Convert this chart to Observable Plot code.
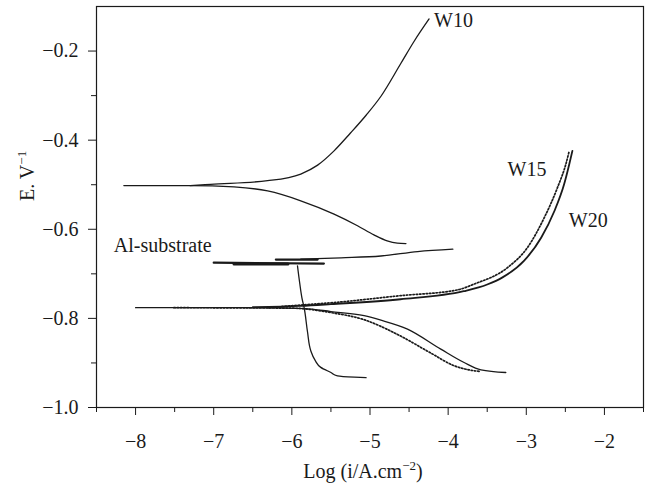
<!DOCTYPE html>
<html><head><meta charset="utf-8">
<script src="https://cdn.jsdelivr.net/npm/d3@7"></script>
<script src="https://cdn.jsdelivr.net/npm/@observablehq/plot@0.6"></script>
<style>body{margin:0;background:#fff}</style>
</head><body><div id="chart"></div>
<script>
// ---- data ----
const xTicks = [-8, -7, -6, -5, -4, -3, -2];
const xMinorTicks = [-8.5, -7.5, -6.5, -5.5, -4.5, -3.5, -2.5, -1.5];
const yTicks = [-1.0, -0.8, -0.6, -0.4, -0.2];
const yMinorTicks = [-0.9, -0.7, -0.5, -0.3];

const w10Cathodic = [[-8.15,-0.502],[-7.3,-0.502],[-6.74,-0.505],[-6.31,-0.514],[-5.886,-0.536],[-5.46,-0.566],[-5.16,-0.592],[-4.95,-0.6125],[-4.78,-0.626],[-4.65,-0.631],[-4.54,-0.632]];
const w10Anodic = [[-7.3,-0.502],[-7.04,-0.499],[-6.31,-0.491],[-5.886,-0.476],[-5.67,-0.456],[-5.46,-0.424],[-5.25,-0.384],[-5.05,-0.344],[-4.862,-0.302],[-4.606,-0.228],[-4.435,-0.178],[-4.244,-0.128]];

const w20Cathodic = [[-8.0,-0.776],[-6.5,-0.776],[-5.843,-0.778],[-5.5,-0.7846],[-5.075,-0.794],[-4.86,-0.804],[-4.52,-0.824],[-4.094,-0.869],[-3.796,-0.899],[-3.58,-0.9155],[-3.262,-0.9215]];
const w20Anodic = [[-6.5,-0.775],[-5.886,-0.772],[-5.5,-0.768],[-4.61,-0.757],[-3.8,-0.739],[-3.5,-0.724],[-3.304,-0.708],[-3.03,-0.671],[-2.81,-0.619],[-2.64,-0.559],[-2.516,-0.499],[-2.45,-0.454],[-2.41,-0.424]];

const w15Cathodic = [[-7.51,-0.776],[-6.0,-0.777],[-5.5,-0.787],[-5.075,-0.803],[-4.648,-0.836],[-4.22,-0.878],[-3.92,-0.9065],[-3.75,-0.915],[-3.6,-0.919]];
const w15Anodic = [[-6.3,-0.776],[-5.886,-0.770],[-5.5,-0.765],[-4.61,-0.749],[-3.88,-0.736],[-3.668,-0.723],[-3.24,-0.686],[-2.985,-0.641],[-2.77,-0.574],[-2.6,-0.506],[-2.494,-0.454],[-2.45,-0.424]];

const alPlateau1 = [[-7.0,-0.675],[-5.59,-0.677]];
const alPlateau2 = [[-6.74,-0.678],[-6.05,-0.678]];
const alPlateau3 = [[-6.205,-0.668],[-5.67,-0.668]];
const alAnodic = [[-5.886,-0.667],[-5.37,-0.664],[-4.86,-0.660],[-4.39,-0.650],[-3.94,-0.6446]];
const alCathodic = [[-5.928,-0.682],[-5.90,-0.72],[-5.87,-0.755],[-5.843,-0.776],[-5.80,-0.83],[-5.757,-0.873],[-5.70,-0.895],[-5.63,-0.910],[-5.5,-0.9215],[-5.416,-0.929],[-5.2,-0.932],[-5.05,-0.933]];

const curveLabels = ["W10", "W15", "W20", "Al-substrate"];
const labelX = [-4.18, -3.24, -2.456, -8.278];
const labelY = [-0.1306, -0.465, -0.5797, -0.636];

const xTitle = "Log (i/A.cm−2)";
const yTitle = "E. V−1";

// ---- build ----
const toPts = a => a.map(([x, y]) => ({x, y}));
const labels = curveLabels.map((t, i) => ({t, x: labelX[i], y: labelY[i]}));
const minus = s => s.replace("-", "\u2212");
const ink = "#1a1a1a";

const solid = (arr, w = 1.3) => Plot.line(toPts(arr), {x: "x", y: "y", stroke: ink, strokeWidth: w, curve: "monotone-x"});
const dotted = arr => Plot.line(toPts(arr), {x: "x", y: "y", stroke: ink, strokeWidth: 1.7, strokeDasharray: "1.4,1.9", curve: "monotone-x"});

const chart = Plot.plot({
  width: 646, height: 483,
  marginLeft: 96, marginRight: 3, marginTop: 6, marginBottom: 76,
  style: {fontFamily: "'Liberation Serif', 'Times New Roman', serif", fontSize: "20px", background: "#fff", color: ink},
  x: {domain: [-8.5, -1.5]},
  y: {domain: [-1.0, -0.1]},
  marks: [
    Plot.axisX({ticks: xTicks, tickSize: 8, tickPadding: 18, tickFormat: d => minus(String(d)), label: null, stroke: ink}),
    Plot.axisX({ticks: xMinorTicks, tickSize: 5, tickFormat: () => "", label: null, stroke: ink}),
    Plot.axisY({ticks: yTicks, tickSize: 8, tickPadding: 10, tickFormat: d => minus(d.toFixed(1)), label: null, stroke: ink}),
    Plot.axisY({ticks: yMinorTicks, tickSize: 5, tickFormat: () => "", label: null, stroke: ink}),
    Plot.frame({stroke: ink, strokeWidth: 1.2}),
    solid(w10Cathodic), solid(w10Anodic),
    solid(w20Cathodic), solid(w20Anodic, 1.8),
    dotted(w15Cathodic), dotted(w15Anodic),
    solid(alPlateau1, 2.2), solid(alPlateau2, 3), solid(alPlateau3, 2.2),
    solid(alAnodic, 1.3),
    Plot.line(toPts(alCathodic), {x: "x", y: "y", stroke: ink, strokeWidth: 1.3, curve: "monotone-y"}),
    Plot.text(labels, {x: "x", y: "y", text: "t", textAnchor: "start", lineAnchor: "middle", fontSize: 20, fill: ink}),
    Plot.text([xTitle], {frameAnchor: "bottom", dx: -7, dy: 64, lineAnchor: "middle", fontSize: 20, fill: ink}),
    Plot.text([yTitle], {frameAnchor: "left", rotate: -90, dx: -69, dy: -6, lineAnchor: "middle", fontSize: 20, fill: ink})
  ]
});
document.getElementById("chart").appendChild(chart);

// superscripts for the axis titles
function superscript(full, base, sup, tail) {
  d3.select(chart).selectAll("text").filter(function() { return this.textContent === full; }).each(function() {
    const t = d3.select(this);
    t.text(null);
    t.append("tspan").text(base);
    t.append("tspan").attr("dy", -8).attr("font-size", 13).text(sup);
    if (tail) t.append("tspan").attr("dy", 8).text(tail);
  });
}
superscript(xTitle, "Log (i/A.cm", "\u22122", ")");
superscript(yTitle, "E. V", "\u22121", "");
</script>
</body></html>
